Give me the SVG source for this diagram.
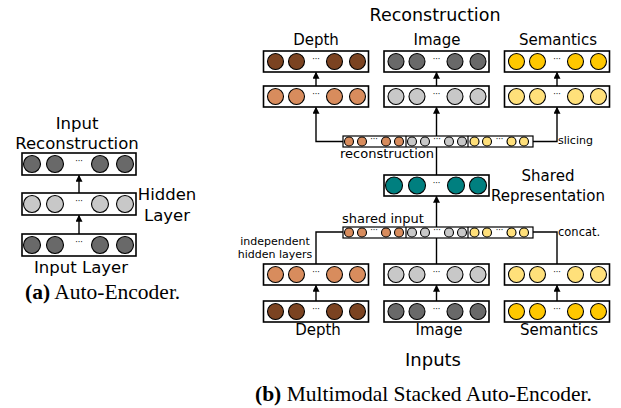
<svg xmlns="http://www.w3.org/2000/svg" width="621" height="408" viewBox="0 0 621 408">
<style>
.box{fill:#fff;stroke:#000;stroke-width:1.6}
.sbox{fill:#fff;stroke:#000;stroke-width:1.2}
circle{stroke:#000;stroke-width:1.1}
.db{fill:#7B4321}.lb{fill:#D88C5D}.dg{fill:#696969}.lg{fill:#C8C8C8}
.gd{fill:#FFC800}.ly{fill:#FFE07A}.tl{fill:#007F7F}
.dots{font-family:"DejaVu Sans",sans-serif;font-size:8px;text-anchor:middle;fill:#000}
.t{font-family:"DejaVu Sans",sans-serif;fill:#000}
.c{text-anchor:middle}
.cap{font-family:"Liberation Serif",serif;font-size:21.5px;fill:#000}
.ln{fill:none;stroke:#000;stroke-width:1.4}
</style>
<defs>
<marker id="ah" viewBox="0 0 10 10" refX="9" refY="5" markerWidth="7" markerHeight="7" markerUnits="userSpaceOnUse" orient="auto">
<path d="M0,0 L10,5 L0,10 z" fill="#000"/>
</marker>
</defs>

<!-- (a) Auto-Encoder -->
<g id="a-recon">
<rect class="box" x="22" y="153" width="114" height="22"/>
<circle class="dg" cx="32" cy="164" r="8.5"/><circle class="dg" cx="55" cy="164" r="8.5"/>
<text class="dots" x="79" y="164">···</text>
<circle class="dg" cx="100" cy="164" r="8.5"/><circle class="dg" cx="125" cy="164" r="8.5"/>
</g>
<g id="a-hidden">
<rect class="box" x="22" y="193" width="114" height="22"/>
<circle class="lg" cx="32" cy="204" r="8.5"/><circle class="lg" cx="55" cy="204" r="8.5"/>
<text class="dots" x="79" y="204">···</text>
<circle class="lg" cx="100" cy="204" r="8.5"/><circle class="lg" cx="125" cy="204" r="8.5"/>
</g>
<g id="a-input">
<rect class="box" x="22" y="234" width="114" height="22"/>
<circle class="dg" cx="32" cy="245" r="8.5"/><circle class="dg" cx="55" cy="245" r="8.5"/>
<text class="dots" x="79" y="245">···</text>
<circle class="dg" cx="100" cy="245" r="8.5"/><circle class="dg" cx="125" cy="245" r="8.5"/>
</g>
<g id="a-labels" class="t" font-size="16.5">
<text class="c" x="77" y="129">Input</text>
<text class="c" x="77" y="149">Reconstruction</text>
<text class="c" x="167" y="200">Hidden</text>
<text class="c" x="167" y="221">Layer</text>
<text class="c" x="81" y="273">Input Layer</text>
</g>
<g id="a-connectors">
<line class="ln" x1="79" y1="234" x2="79" y2="215.5" marker-end="url(#ah)"/>
<line class="ln" x1="79" y1="193" x2="79" y2="175.5" marker-end="url(#ah)"/>
</g>
<text class="cap" x="25" y="299"><tspan font-weight="bold">(a)</tspan> Auto-Encoder.</text>

<!-- (b) Multimodal Stacked Auto-Encoder -->
<g id="b-connectors">
<line class="ln" x1="316" y1="86" x2="316" y2="72.5" marker-end="url(#ah)"/>
<line class="ln" x1="436.5" y1="86" x2="436.5" y2="72.5" marker-end="url(#ah)"/>
<line class="ln" x1="557" y1="86" x2="557" y2="72.5" marker-end="url(#ah)"/>
<path class="ln" d="M343,141.5 H316 V107.5" marker-end="url(#ah)"/>
<path class="ln" d="M533,141.5 H557 V107.5" marker-end="url(#ah)"/>
<line class="ln" x1="436.5" y1="175" x2="436.5" y2="107.5" marker-end="url(#ah)"/>
<line class="ln" x1="436.5" y1="264" x2="436.5" y2="196.5" marker-end="url(#ah)"/>
<path class="ln" d="M316,264 V232 H343"/>
<path class="ln" d="M557,264 V232 H533"/>
<line class="ln" x1="316" y1="301" x2="316" y2="285.5" marker-end="url(#ah)"/>
<line class="ln" x1="436.5" y1="301" x2="436.5" y2="285.5" marker-end="url(#ah)"/>
<line class="ln" x1="557" y1="301" x2="557" y2="285.5" marker-end="url(#ah)"/>
</g>

<g id="depth-out">
<rect class="box" x="263.5" y="51" width="105" height="21"/>
<circle class="db" cx="275.5" cy="61.5" r="8"/><circle class="db" cx="296.5" cy="61.5" r="8"/>
<text class="dots" x="316" y="61.5">···</text>
<circle class="db" cx="334.5" cy="61.5" r="8"/><circle class="db" cx="357.5" cy="61.5" r="8"/>
</g>
<g id="image-out">
<rect class="box" x="384" y="51" width="105" height="21"/>
<circle class="dg" cx="396" cy="61.5" r="8"/><circle class="dg" cx="417" cy="61.5" r="8"/>
<text class="dots" x="436.5" y="61.5">···</text>
<circle class="dg" cx="455" cy="61.5" r="8"/><circle class="dg" cx="478" cy="61.5" r="8"/>
</g>
<g id="semantics-out">
<rect class="box" x="504.5" y="51" width="105" height="21"/>
<circle class="gd" cx="516.5" cy="61.5" r="8"/><circle class="gd" cx="537.5" cy="61.5" r="8"/>
<text class="dots" x="557" y="61.5">···</text>
<circle class="gd" cx="575.5" cy="61.5" r="8"/><circle class="gd" cx="598.5" cy="61.5" r="8"/>
</g>

<g id="depth-dec">
<rect class="box" x="263.5" y="86" width="105" height="21"/>
<circle class="lb" cx="275.5" cy="96.5" r="8"/><circle class="lb" cx="296.5" cy="96.5" r="8"/>
<text class="dots" x="316" y="96.5">···</text>
<circle class="lb" cx="334.5" cy="96.5" r="8"/><circle class="lb" cx="357.5" cy="96.5" r="8"/>
</g>
<g id="image-dec">
<rect class="box" x="384" y="86" width="105" height="21"/>
<circle class="lg" cx="396" cy="96.5" r="8"/><circle class="lg" cx="417" cy="96.5" r="8"/>
<text class="dots" x="436.5" y="96.5">···</text>
<circle class="lg" cx="455" cy="96.5" r="8"/><circle class="lg" cx="478" cy="96.5" r="8"/>
</g>
<g id="semantics-dec">
<rect class="box" x="504.5" y="86" width="105" height="21"/>
<circle class="ly" cx="516.5" cy="96.5" r="8"/><circle class="ly" cx="537.5" cy="96.5" r="8"/>
<text class="dots" x="557" y="96.5">···</text>
<circle class="ly" cx="575.5" cy="96.5" r="8"/><circle class="ly" cx="598.5" cy="96.5" r="8"/>
</g>

<g id="recon-strip">
<rect class="sbox" x="343" y="136" width="190" height="11"/>
<line class="sbox" x1="406" y1="136" x2="406" y2="147"/><line class="sbox" x1="468" y1="136" x2="468" y2="147"/>
<circle class="lb" cx="349" cy="141.5" r="4.5"/><circle class="lb" cx="362" cy="141.5" r="4.5"/>
<text class="dots" x="374" y="141.5" font-size="6">···</text>
<circle class="lb" cx="386" cy="141.5" r="4.5"/><circle class="lb" cx="399" cy="141.5" r="4.5"/>
<circle class="lg" cx="412" cy="141.5" r="4.5"/><circle class="lg" cx="425" cy="141.5" r="4.5"/>
<text class="dots" x="437" y="141.5" font-size="6">···</text>
<circle class="lg" cx="449" cy="141.5" r="4.5"/><circle class="lg" cx="462" cy="141.5" r="4.5"/>
<circle class="ly" cx="474.5" cy="141.5" r="4.5"/><circle class="ly" cx="487" cy="141.5" r="4.5"/>
<text class="dots" x="499.5" y="141.5" font-size="6">···</text>
<circle class="ly" cx="511.5" cy="141.5" r="4.5"/><circle class="ly" cx="524" cy="141.5" r="4.5"/>
</g>

<g id="shared-rep">
<rect class="box" x="384" y="175" width="105" height="21"/>
<circle class="tl" cx="394" cy="185.5" r="8.5"/><circle class="tl" cx="417" cy="185.5" r="8.5"/>
<text class="dots" x="436.5" y="185.5">···</text>
<circle class="tl" cx="456" cy="185.5" r="8.5"/><circle class="tl" cx="478" cy="185.5" r="8.5"/>
</g>

<g id="shared-input-strip">
<rect class="sbox" x="343" y="227" width="190" height="11"/>
<line class="sbox" x1="406" y1="227" x2="406" y2="238"/><line class="sbox" x1="468" y1="227" x2="468" y2="238"/>
<circle class="lb" cx="349" cy="232.5" r="4.5"/><circle class="lb" cx="362" cy="232.5" r="4.5"/>
<text class="dots" x="374" y="232.5" font-size="6">···</text>
<circle class="lb" cx="386" cy="232.5" r="4.5"/><circle class="lb" cx="399" cy="232.5" r="4.5"/>
<circle class="lg" cx="412" cy="232.5" r="4.5"/><circle class="lg" cx="425" cy="232.5" r="4.5"/>
<text class="dots" x="437" y="232.5" font-size="6">···</text>
<circle class="lg" cx="449" cy="232.5" r="4.5"/><circle class="lg" cx="462" cy="232.5" r="4.5"/>
<circle class="ly" cx="474.5" cy="232.5" r="4.5"/><circle class="ly" cx="487" cy="232.5" r="4.5"/>
<text class="dots" x="499.5" y="232.5" font-size="6">···</text>
<circle class="ly" cx="511.5" cy="232.5" r="4.5"/><circle class="ly" cx="524" cy="232.5" r="4.5"/>
</g>

<g id="depth-hidden">
<rect class="box" x="263.5" y="264" width="105" height="21"/>
<circle class="lb" cx="275.5" cy="274.5" r="8"/><circle class="lb" cx="296.5" cy="274.5" r="8"/>
<text class="dots" x="316" y="274.5">···</text>
<circle class="lb" cx="334.5" cy="274.5" r="8"/><circle class="lb" cx="357.5" cy="274.5" r="8"/>
</g>
<g id="image-hidden">
<rect class="box" x="384" y="264" width="105" height="21"/>
<circle class="lg" cx="396" cy="274.5" r="8"/><circle class="lg" cx="417" cy="274.5" r="8"/>
<text class="dots" x="436.5" y="274.5">···</text>
<circle class="lg" cx="455" cy="274.5" r="8"/><circle class="lg" cx="478" cy="274.5" r="8"/>
</g>
<g id="semantics-hidden">
<rect class="box" x="504.5" y="264" width="105" height="21"/>
<circle class="ly" cx="516.5" cy="274.5" r="8"/><circle class="ly" cx="537.5" cy="274.5" r="8"/>
<text class="dots" x="557" y="274.5">···</text>
<circle class="ly" cx="575.5" cy="274.5" r="8"/><circle class="ly" cx="598.5" cy="274.5" r="8"/>
</g>

<g id="depth-in">
<rect class="box" x="263.5" y="301" width="105" height="21"/>
<circle class="db" cx="275.5" cy="311.5" r="8"/><circle class="db" cx="296.5" cy="311.5" r="8"/>
<text class="dots" x="316" y="311.5">···</text>
<circle class="db" cx="334.5" cy="311.5" r="8"/><circle class="db" cx="357.5" cy="311.5" r="8"/>
</g>
<g id="image-in">
<rect class="box" x="384" y="301" width="105" height="21"/>
<circle class="dg" cx="396" cy="311.5" r="8"/><circle class="dg" cx="417" cy="311.5" r="8"/>
<text class="dots" x="436.5" y="311.5">···</text>
<circle class="dg" cx="455" cy="311.5" r="8"/><circle class="dg" cx="478" cy="311.5" r="8"/>
</g>
<g id="semantics-in">
<rect class="box" x="504.5" y="301" width="105" height="21"/>
<circle class="gd" cx="516.5" cy="311.5" r="8"/><circle class="gd" cx="537.5" cy="311.5" r="8"/>
<text class="dots" x="557" y="311.5">···</text>
<circle class="gd" cx="575.5" cy="311.5" r="8"/><circle class="gd" cx="598.5" cy="311.5" r="8"/>
</g>

<g id="b-labels" class="t">
<text class="c" x="435" y="21" font-size="17.5">Reconstruction</text>
<text class="c" x="316" y="45" font-size="15">Depth</text>
<text class="c" x="437" y="45" font-size="15">Image</text>
<text class="c" x="558" y="45" font-size="15">Semantics</text>
<text class="c" x="387" y="158" font-size="13">reconstruction</text>
<text x="558" y="144" font-size="11">slicing</text>
<text class="c" x="548" y="181" font-size="15">Shared</text>
<text class="c" x="548" y="201" font-size="15">Representation</text>
<text class="c" x="383" y="223" font-size="13">shared input</text>
<text class="c" x="275" y="245" font-size="11">independent</text>
<text class="c" x="275" y="258" font-size="11">hidden layers</text>
<text x="558" y="236" font-size="11.5">concat.</text>
<text class="c" x="318" y="335" font-size="15">Depth</text>
<text class="c" x="439" y="335" font-size="15">Image</text>
<text class="c" x="559" y="335" font-size="15">Semantics</text>
<text class="c" x="433" y="366" font-size="18">Inputs</text>
</g>
<text class="cap" x="255" y="401"><tspan font-weight="bold">(b)</tspan> Multimodal Stacked Auto-Encoder.</text>
</svg>
